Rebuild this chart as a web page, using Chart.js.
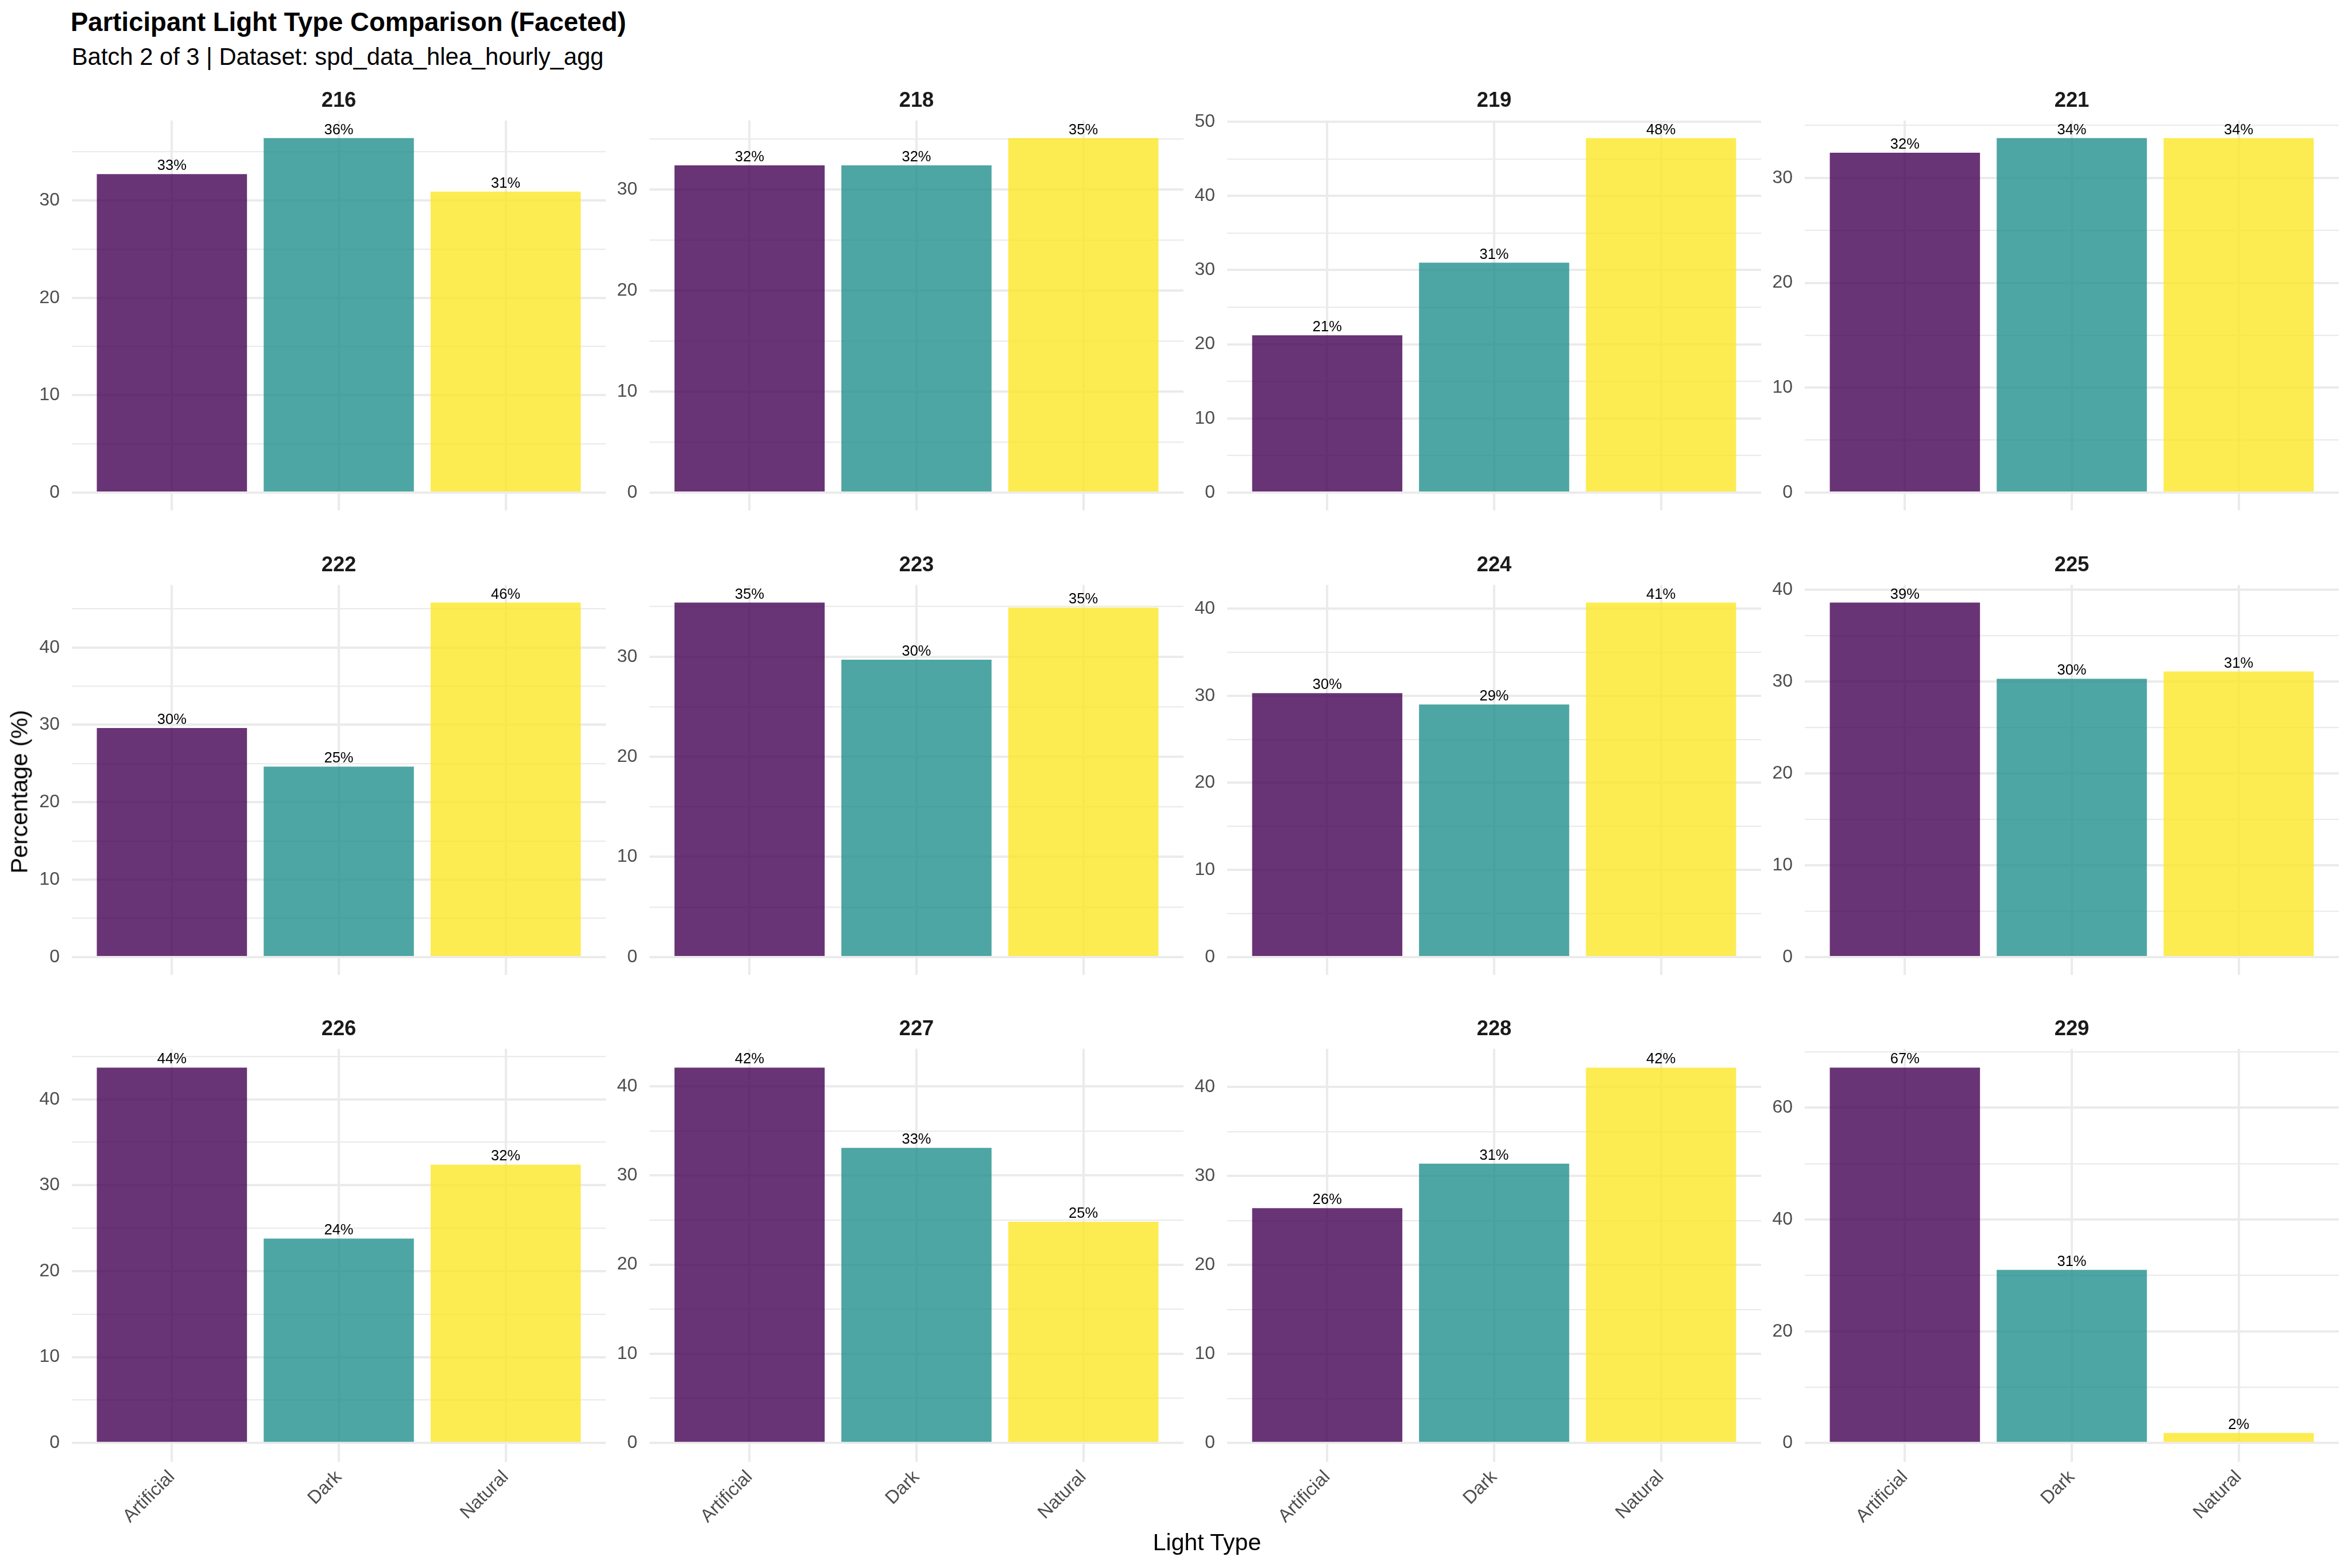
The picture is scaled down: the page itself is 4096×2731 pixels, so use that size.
<!DOCTYPE html>
<html>
<head>
<meta charset="utf-8">
<script src="https://cdn.jsdelivr.net/npm/chart.js@4.4.1/dist/chart.umd.min.js"></script>
<style>
  html, body { margin: 0; padding: 0; background: #ffffff; }
  body { width: 4096px; height: 2731px; position: relative; overflow: hidden;
         font-family: "Liberation Sans", Arial, Helvetica, sans-serif; }
  canvas { position: absolute; }
  .txt { position: absolute; white-space: nowrap; line-height: 1; color: #000; z-index: 5; }
</style>
</head>
<body>
<div class="txt" id="title" style="left:123px; top:15.5px; font-size:45.5px; font-weight:bold;">Participant Light Type Comparison (Faceted)</div>
<div class="txt" id="subtitle" style="left:125px; top:77.5px; font-size:41.7px;">Batch 2 of 3 | Dataset: spd_data_hlea_hourly_agg</div>
<div class="txt" id="xtitle" style="left:2102px; top:2666px; font-size:41px; transform:translateX(-50%);">Light Type</div>
<div class="txt" id="ytitle" style="left:34.4px; top:1378.6px; font-size:41px; transform:translate(-50%,-50%) rotate(-90deg);">Percentage (%)</div>
<script>
// ---------------- DATA ----------------
const participants = ['216', '218', '219', '221', '222', '223', '224', '225', '226', '227', '228', '229'];
const lightTypes = ['Artificial', 'Dark', 'Natural'];
const artificialPct = [32.7, 32.4, 21.2, 32.4, 29.6, 35.4, 30.3, 38.6, 43.7, 42.1, 26.4, 67.2];
const darkPct       = [36.4, 32.4, 31.0, 33.8, 24.6, 29.7, 29.0, 30.3, 23.8, 33.1, 31.4, 31.0];
const naturalPct    = [30.9, 35.1, 47.8, 33.8, 45.8, 34.9, 40.7, 31.1, 32.4, 24.8, 42.2, 1.8];
const yMajorStep    = [10, 10, 10, 10, 10, 10, 10, 10, 10, 10, 10, 20];

// ---------------- STYLE / LAYOUT ----------------
const FONT = '"Liberation Sans", Arial, Helvetica, sans-serif';
const barColors = ['rgba(68,1,84,0.8)', 'rgba(33,144,140,0.8)', 'rgba(253,231,37,0.8)'];
const GRID = '#EBEBEB';
const NCOL = 4;
const panelLeft0 = 124.7, panelPitchX = 1006.2, panelW = 929.7;
const panelTop0 = 210.0, panelPitchY = 808.5, panelH = 719.8;
const yAxisW = 100;
const stripFont = 36.4, stripPadBottom = 12;
const titleBlock = stripFont * 1.2 + stripPadBottom;
const xAxisH = 140;

Chart.defaults.font.family = FONT;

const valueLabels = {
  id: 'valueLabels',
  afterDatasetsDraw(chart) {
    const ctx = chart.ctx;
    const meta = chart.getDatasetMeta(0);
    const ds = chart.data.datasets[0];
    ctx.save();
    ctx.font = '25.5px ' + FONT;
    ctx.fillStyle = '#000000';
    ctx.textAlign = 'center';
    ctx.textBaseline = 'alphabetic';
    meta.data.forEach((el, i) => {
      const v = ds.data[i].y;
      ctx.fillText(Math.round(v) + '%', el.x, el.y - 7);
    });
    ctx.restore();
  }
};

participants.forEach((pid, p) => {
  const col = p % NCOL, row = Math.floor(p / NCOL);
  const nRows = Math.ceil(participants.length / NCOL);
  const isBottom = row === nRows - 1;
  const vals = [artificialPct[p], darkPct[p], naturalPct[p]];
  const vmax = Math.max(...vals);
  const step = yMajorStep[p];

  const cv = document.createElement('canvas');
  const cw = yAxisW + panelW;
  const ch = titleBlock + panelH + (isBottom ? xAxisH : 0);
  cv.width = Math.round(cw);
  cv.height = Math.round(ch);
  cv.style.left = (panelLeft0 + col * panelPitchX - yAxisW) + 'px';
  cv.style.top = (panelTop0 + row * panelPitchY - titleBlock) + 'px';
  document.body.appendChild(cv);

  new Chart(cv, {
    type: 'bar',
    data: {
      datasets: [{
        data: vals.map((v, i) => ({ x: i, y: v })),
        backgroundColor: barColors,
        borderWidth: 0,
        barPercentage: 0.9,
        categoryPercentage: 1.0
      }]
    },
    options: {
      responsive: false,
      maintainAspectRatio: false,
      animation: false,
      devicePixelRatio: 1,
      layout: { padding: 0, autoPadding: false },
      plugins: {
        legend: { display: false },
        tooltip: { enabled: false },
        title: {
          display: true,
          text: pid,
          fullSize: false,
          color: '#1A1A1A',
          font: { size: stripFont, weight: 'bold', lineHeight: 1.2, family: FONT },
          padding: { top: 0, bottom: stripPadBottom }
        }
      },
      scales: {
        x: {
          type: 'linear',
          min: -0.6,
          max: lightTypes.length - 0.4,
          offset: false,
          border: { display: false },
          grid: { color: GRID, lineWidth: 4.1, drawTicks: false, offset: false },
          afterBuildTicks: (s) => { s.ticks = lightTypes.map((_, i) => ({ value: i })); },
          afterFit: (s) => { s.height = isBottom ? xAxisH : 0; },
          ticks: {
            display: isBottom,
            autoSkip: false,
            minRotation: 45,
            maxRotation: 45,
            padding: 8,
            color: '#4D4D4D',
            font: { size: 32, family: FONT },
            callback: (v) => lightTypes[v]
          }
        },
        y: {
          type: 'linear',
          min: -0.05 * vmax,
          max: 1.05 * vmax,
          border: { display: false },
          grid: {
            color: GRID,
            drawTicks: false,
            lineWidth: (c) => (c.tick && Math.round(c.tick.value) % step === 0) ? 4.1 : 2.3
          },
          afterBuildTicks: (s) => {
            const half = step / 2, t = [];
            for (let i = 0; i * half <= s.max; i++) t.push({ value: i * half });
            s.ticks = t;
          },
          afterFit: (s) => { s.width = yAxisW; },
          ticks: {
            autoSkip: false,
            padding: 21,
            color: '#4D4D4D',
            font: { size: 32, family: FONT },
            callback: (v) => (Math.round(v) % step === 0 ? String(Math.round(v)) : '')
          }
        }
      }
    },
    plugins: [valueLabels]
  });
});
</script>
</body>
</html>
